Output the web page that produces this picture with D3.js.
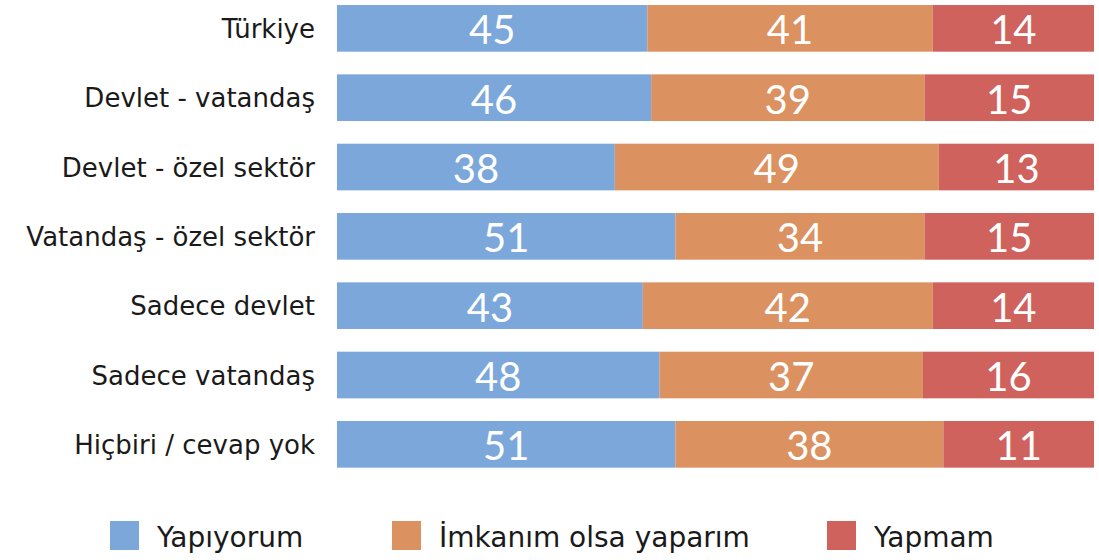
<!DOCTYPE html>
<html lang="tr">
<head>
  <meta charset="UTF-8">
  <title>Bağış</title>
  <script src="https://cdn.jsdelivr.net/npm/d3@7"></script>
  <style>
    body { margin: 0; background: #fff; }
    svg { display: block; font-family: "DejaVu Sans", sans-serif; }
  </style>
</head>
<body>
<div id="chart"></div>
<script>
  // kategoriler (yukarıdan aşağı)
  const categories = [
    'Türkiye',
    'Devlet - vatandaş',
    'Devlet - özel sektör',
    'Vatandaş - özel sektör',
    'Sadece devlet',
    'Sadece vatandaş',
    'Hiçbiri / cevap yok'
  ];
  const seriesNames = ['Yapıyorum', 'İmkanım olsa yaparım', 'Yapmam'];

  // çubukların üstünde yazan değerler
  const labelYapiyorum = [45, 46, 38, 51, 43, 48, 51];
  const labelImkanim   = [41, 39, 49, 34, 42, 37, 38];
  const labelYapmam    = [14, 15, 13, 15, 14, 16, 11];

  // çubuk uzunlukları: kaynakta yazılan sayılarla birebir örtüşmüyor,
  // resimden okunan paylar (%)
  const barYapiyorum = [41.0, 41.5, 36.7, 44.7, 40.4, 42.6, 44.7];
  const barImkanim   = [37.7, 36.1, 42.8, 32.9, 38.3, 34.8, 35.4];
  const barYapmam    = [21.3, 22.4, 20.5, 22.4, 21.3, 22.6, 19.9];

  const colors = ['#7ca7da', '#db9160', '#cf625d'];

  const width = 1099, height = 560;
  const margin = { left: 337, right: 5 };

  const rows = categories.map((c, i) => ({
    name: c,
    'Yapıyorum': barYapiyorum[i],
    'İmkanım olsa yaparım': barImkanim[i],
    'Yapmam': barYapmam[i],
    labels: [labelYapiyorum[i], labelImkanim[i], labelYapmam[i]]
  }));

  const stacked = d3.stack().keys(seriesNames)(rows);

  const x = d3.scaleLinear()
    .domain([0, 100])
    .range([margin.left, width - margin.right]);

  const y = d3.scaleBand()
    .domain(categories)
    .range([-6.3, 479])
    .paddingInner(0.327)
    .paddingOuter(0.1635);

  const color = d3.scaleOrdinal().domain(seriesNames).range(colors);

  const svg = d3.select('#chart').append('svg')
    .attr('width', width)
    .attr('height', height);

  const layer = svg.selectAll('g.layer')
    .data(stacked)
    .enter().append('g')
    .attr('class', 'layer')
    .attr('fill', d => color(d.key));

  layer.selectAll('rect')
    .data(d => d)
    .enter().append('rect')
    .attr('x', d => x(d[0]))
    .attr('y', d => y(d.data.name))
    .attr('width', d => x(d[1]) - x(d[0]))
    .attr('height', y.bandwidth());

  // değer yazıları
  stacked.forEach((s, si) => {
    svg.append('g').selectAll('text')
      .data(s)
      .enter().append('text')
      .attr('x', d => (x(d[0]) + x(d[1])) / 2)
      .attr('y', d => y(d.data.name) + y.bandwidth() / 2)
      .attr('dy', '0.4em')
      .attr('text-anchor', 'middle')
      .attr('fill', '#fff')
      .style('font-family', 'Lato, sans-serif')
      .style('font-size', '40px')
      .text(d => d.data.labels[si]);
  });

  // kategori adları
  svg.append('g').selectAll('text')
    .data(categories)
    .enter().append('text')
    .attr('x', 315)
    .attr('y', d => y(d) + y.bandwidth() / 2)
    .attr('dy', '0.37em')
    .attr('text-anchor', 'end')
    .attr('fill', '#1a1a1a')
    .style('font-size', '26px')
    .text(d => d);

  // lejant
  const legendX = [110, 392, 827];
  const legend = svg.append('g').selectAll('g')
    .data(seriesNames)
    .enter().append('g')
    .attr('transform', (d, i) => `translate(${legendX[i]}, 521)`);

  legend.append('rect')
    .attr('width', 29)
    .attr('height', 29)
    .attr('fill', d => color(d));

  legend.append('text')
    .attr('x', 47)
    .attr('y', 26)
    .attr('fill', '#1a1a1a')
    .style('font-size', '28px')
    .text(d => d);
</script>
</body>
</html>
